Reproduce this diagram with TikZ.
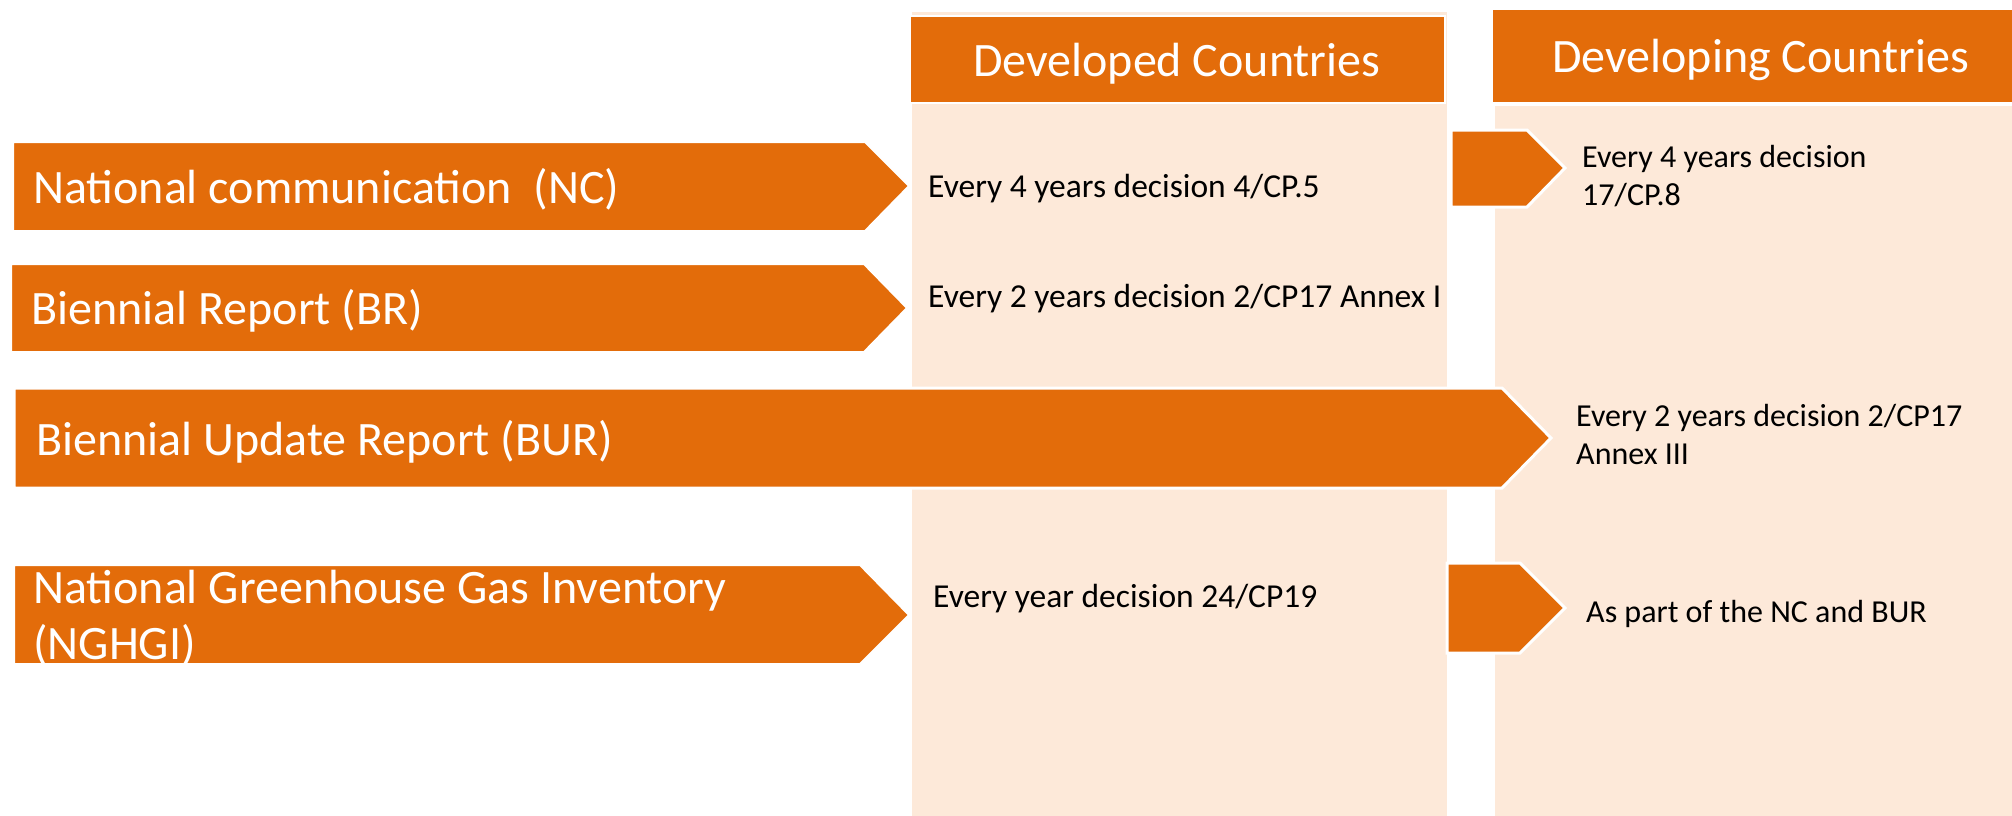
\documentclass[tikz,border=0pt]{standalone}
\usepackage{fontspec}
\setmainfont{Carlito}
\definecolor{org}{RGB}{227,108,10}
\definecolor{pale}{RGB}{253,233,217}
\begin{document}
\begin{tikzpicture}[x=1pt,y=-1pt,
  big/.style={font=\fontsize{48}{58}\selectfont, text=white, inner sep=0pt, anchor=base west},
  body/.style={font=\fontsize{33.5}{40}\selectfont, text=black, inner sep=0pt, anchor=base west},
  bodyr/.style={body, font=\fontsize{32}{38}\selectfont},
  arrowshape/.style={fill=org, draw=white, line width=2pt, line join=miter},
  colbg/.style={fill=pale},
  hdrbox/.style={fill=org, draw=white, line width=1.5pt}
]
\useasboundingbox (0,0) rectangle (2012,816);
\fill[white] (0,0) rectangle (2012,816);
% columns
\path[colbg] (912,12) rectangle (1447,816);
\path[colbg] (1495,106) rectangle (2012,816);
\path[hdrbox] (910,16) rectangle (1445,103);
\path[hdrbox] (1492,9) rectangle (2014,103);
\node[big, anchor=base west] (devd) at (973,77) {Developed Countries};
\node[big, anchor=base west] (devg) at (1552,72) {Developing Countries};
% big arrows
\path[arrowshape] (13,142) -- (865,142) -- (909,186) -- (865,231) -- (13,231) -- cycle;
\path[arrowshape] (11,264) -- (864,264) -- (907,308) -- (864,352) -- (11,352) -- cycle;
\path[arrowshape, line width=3pt] (14,388) -- (1502,388) -- (1551,438) -- (1502,488) -- (14,488) -- cycle;
\path[arrowshape] (14,565) -- (860,565) -- (909,615) -- (860,664) -- (14,664) -- cycle;
% small arrows
\path[arrowshape, line width=3pt] (1451,130) -- (1527,130) -- (1565,168) -- (1527,207) -- (1451,207) -- cycle;
\path[arrowshape, line width=3pt] (1447,563) -- (1520,563) -- (1565,608) -- (1520,653) -- (1447,653) -- cycle;
% arrow labels
\node[big] (nc) at (33,203) {National communication\ \ (NC)};
\node[big] (br) at (31,324) {Biennial Report (BR)};
\node[big] (bur) at (36,455) {Biennial Update Report (BUR)};
\node[big] (ng1) at (33,603) {National Greenhouse Gas Inventory};
\node[big] (ng2) at (33,659) {(NGHGI)};
% body texts
\node[body] (t1) at (928,197) {Every 4 years decision 4/CP.5};
\node[body] (t2) at (928,307) {Every 2 years decision 2/CP17 Annex I};
\node[bodyr] (t3a) at (1582,167) {Every 4 years decision};
\node[bodyr] (t3b) at (1582,205) {17/CP.8};
\node[bodyr] (t4a) at (1576,426) {Every 2 years decision 2/CP17};
\node[bodyr] (t4b) at (1576,464) {Annex III};
\node[body] (t5) at (933,607) {Every year decision 24/CP19};
\node[bodyr] (t6) at (1586,622) {As part of the NC and BUR};
\end{tikzpicture}
\end{document}
